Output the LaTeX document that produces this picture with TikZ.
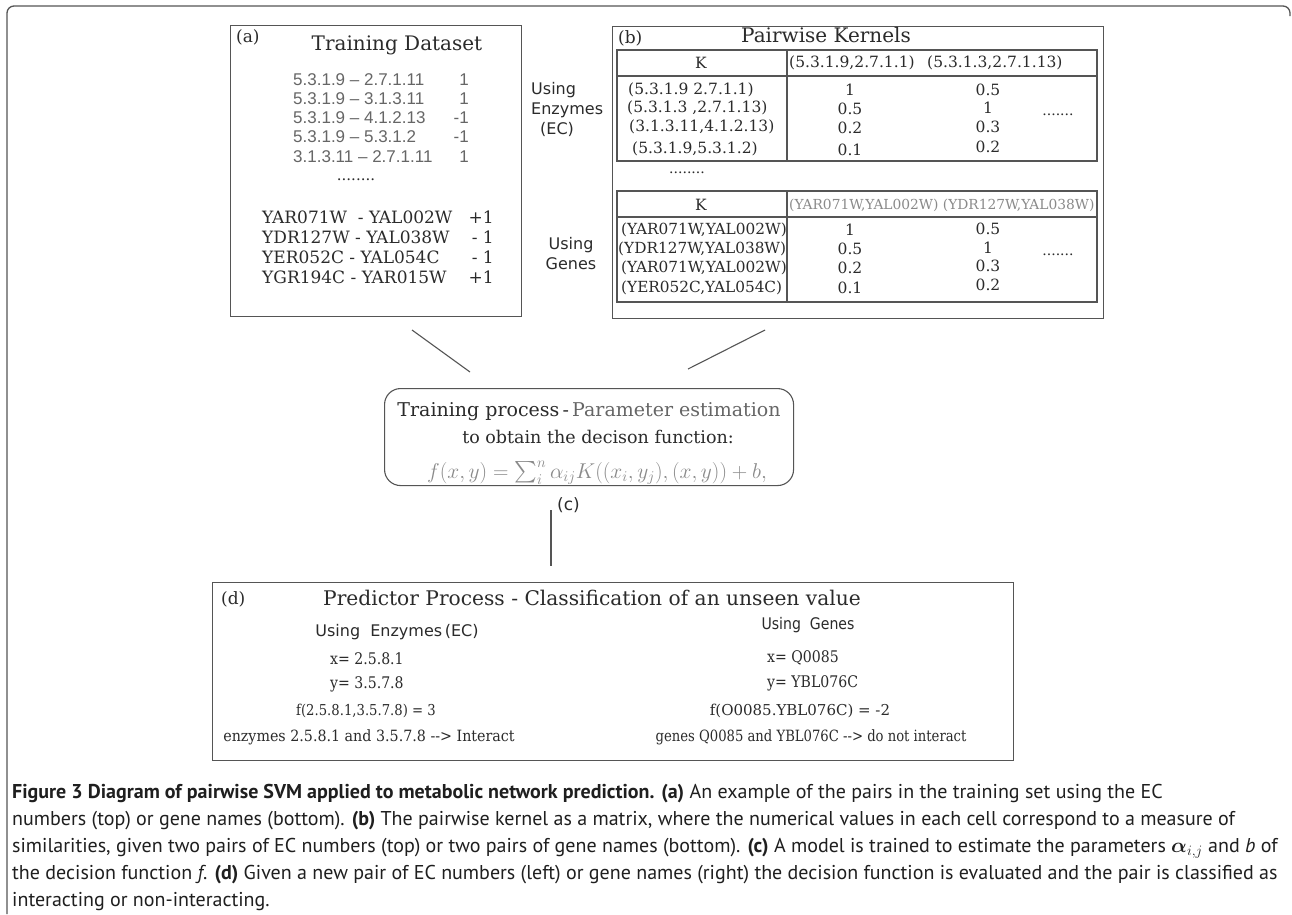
\documentclass[tikz,border=0pt]{standalone}
\usepackage{fontspec}
\usepackage{amsmath}
\usepackage{graphicx}
\setmainfont{DejaVu Serif}
\setsansfont{DejaVu Sans}
\newfontfamily\capfont{PT Sans}
\newfontfamily\arialfont{Liberation Sans}
\definecolor{ink}{HTML}{2B2B2B}
\definecolor{grayink}{HTML}{666666}
\definecolor{lightink}{HTML}{8A8A8A}
\definecolor{framec}{HTML}{555555}
\newcommand{\fs}[1]{\fontsize{#1}{#1}\selectfont}
\newcommand{\cnd}[1]{\scalebox{0.88}[1]{#1}}
\begin{document}
\begin{tikzpicture}[x=1pt,y=-1pt,
  every node/.style={inner sep=0pt, text=ink},
  box/.style={draw=framec, line width=1.1pt},
  tbl/.style={draw=framec, line width=1.1pt},
  link/.style={draw=framec, line width=1.1pt},
  ectext/.style={text=grayink, font=\arialfont\fs{17}},
  cell/.style={font=\fs{15.5}},
  gcell/.style={font=\fs{15.3}},
  gene/.style={font=\fs{17}},
  capline/.style={anchor=west, font=\capfont\fs{20}, text=black!88}]
\useasboundingbox (0,0) rectangle (1292,914);
\fill[white] (0,0) rectangle (1292,914);
% outer frame
\draw[framec, line width=1.3pt, rounded corners=7pt] (7,914) -- (7,6) -- (1290,6) -- (1290,16);

% ---------- box (a)
\node[box, anchor=north west, minimum width=291, minimum height=291] (boxa) at (230,25) {};
\node[anchor=west, font=\fs{17}] (la) at (236,37) {(a)};
\node[font=\fs{20}] (ta) at (397,45) {Training Dataset};
\node[ectext, anchor=west] (e1) at (293,80) {5.3.1.9 – 2.7.1.11};
\node[ectext, anchor=west] (e2) at (293,99) {5.3.1.9 – 3.1.3.11};
\node[ectext, anchor=west] (e3) at (293,118) {5.3.1.9 – 4.1.2.13};
\node[ectext, anchor=west] (e4) at (293,137) {5.3.1.9 – 5.3.1.2};
\node[ectext, anchor=west] (e5) at (293,157) {3.1.3.11 – 2.7.1.11};
\node[ectext, anchor=east] (v1) at (469,80) {1};
\node[ectext, anchor=east] (v2) at (469,99) {1};
\node[ectext, anchor=east] (v3) at (469,118) {-1};
\node[ectext, anchor=east] (v4) at (469,137) {-1};
\node[ectext, anchor=east] (v5) at (469,157) {1};
\node[font=\fs{15}] (dotsa) at (356,180) {........};
\node[gene, anchor=west] (g1) at (262,217) {YAR071W\ \ - YAL002W};
\node[gene, anchor=west] (g2) at (262,237) {YDR127W - YAL038W};
\node[gene, anchor=west] (g3) at (262,257) {YER052C - YAL054C};
\node[gene, anchor=west] (g4) at (262,277) {YGR194C - YAR015W};
\node[gene, anchor=east] (w1) at (494,217) {+1};
\node[gene, anchor=east] (w2) at (494,237) {- 1};
\node[gene, anchor=east] (w3) at (494,257) {- 1};
\node[gene, anchor=east] (w4) at (494,277) {+1};

% side labels
\node[anchor=north west, align=left, font=\sffamily\fs{16}, inner sep=0pt] (usee) at (531,82) {Using\\[4pt]Enzymes\\[4pt]\hspace{9pt}(EC)};
\node[align=center, font=\sffamily\fs{16}] (useg) at (571,254) {Using\\[4pt]Genes};

% ---------- box (b)
\node[box, anchor=north west, minimum width=491, minimum height=292] (boxb) at (612,26) {};
\node[anchor=west, font=\fs{17}] (lb) at (618,38) {(b)};
\node[font=\fs{20}] (tb) at (826,35) {Pairwise Kernels};
% table 1
\draw[tbl] (617,50) rectangle (1097,161);
\draw[tbl] (617,76) -- (1097,76);
\draw[tbl] (787,50) -- (787,161);
\node[cell] (k1) at (701,63) {K};
\node[cell, anchor=west] (h11) at (789,63) {(5.3.1.9,2.7.1.1)};
\node[cell, anchor=west] (h12) at (927,63) {(5.3.1.3,2.7.1.13)};
\node[cell, anchor=west] (r11) at (628,90) {(5.3.1.9 2.7.1.1)};
\node[cell, anchor=west] (r12) at (627,108) {(5.3.1.3 ,2.7.1.13)};
\node[cell, anchor=west] (r13) at (629,127) {(3.1.3.11,4.1.2.13)};
\node[cell, anchor=west] (r14) at (632,149) {(5.3.1.9,5.3.1.2)};
\node[cell] (a11) at (850,90) {1};
\node[cell] (a12) at (850,109) {0.5};
\node[cell] (a13) at (850,128) {0.2};
\node[cell] (a14) at (850,150) {0.1};
\node[cell] (b11) at (988,90) {0.5};
\node[cell] (b12) at (988,108) {1};
\node[cell] (b13) at (988,127) {0.3};
\node[cell] (b14) at (988,147) {0.2};
\node[font=\fs{14}] (dt1) at (1058,115) {.......};
\node[font=\fs{14}] (dmid) at (687,173) {........};
% table 2
\draw[tbl] (617,191) rectangle (1097,302);
\draw[tbl] (617,217) -- (1097,217);
\draw[tbl] (787,191) -- (787,302);
\node[cell] (k2) at (701,205) {K};
\node[anchor=west, font=\fs{13.8}, text=lightink] (h2) at (789,205) {(YAR071W,YAL002W) (YDR127W,YAL038W)};
\node[gcell, anchor=west] (r21) at (621,230) {(YAR071W,YAL002W)};
\node[gcell, anchor=west] (r22) at (618,249) {(YDR127W,YAL038W)};
\node[gcell, anchor=west] (r23) at (621,268) {(YAR071W,YAL002W)};
\node[gcell, anchor=west] (r24) at (621,288) {(YER052C,YAL054C)};
\node[cell] (a21) at (850,230) {1};
\node[cell] (a22) at (850,249) {0.5};
\node[cell] (a23) at (850,268) {0.2};
\node[cell] (a24) at (850,288) {0.1};
\node[cell] (b21) at (988,229) {0.5};
\node[cell] (b22) at (988,248) {1};
\node[cell] (b23) at (988,266) {0.3};
\node[cell] (b24) at (988,285) {0.2};
\node[font=\fs{14}] (dt2) at (1058,255) {.......};

% ---------- links to (c)
\coordinate (la1) at (412,330);
\coordinate (la2) at (470,372);
\coordinate (lb1) at (765,330);
\coordinate (lb2) at (688,369);
\draw[link] (la1) -- (la2);
\draw[link] (lb1) -- (lb2);

% ---------- box (c)
\node[box, anchor=north west, rounded corners=16pt, minimum width=409, minimum height=97] (boxc) at (384,388) {};
\node[font=\fs{19}] (c1) at (589,412) {Training process\,-\,{\color{grayink}Parameter estimation}};
\node[font=\fs{17.5}] (c2) at (598,437) {to obtain the decison function:};
\node[text=lightink, anchor=base] (c3) at (597,478) {\scalebox{1.24}{\fs{17}$\smash[t]{f(x,y)=\sum_i^n \alpha_{ij}K((x_i,y_j),(x,y))+b,}$}};
\node[anchor=west, font=\sffamily\fs{17}] (lc) at (557,505) {(c)};
\coordinate (lc1) at (551,510);
\coordinate (lc2) at (551,566);
\draw[link] (lc1) -- (lc2);

% ---------- box (d)
\node[box, anchor=north west, minimum width=801, minimum height=178] (boxd) at (212,582) {};
\node[anchor=west, font=\fs{17}] (ld) at (221,599) {(d)};
\node[font=\fs{20.2}] (td) at (592,598) {Predictor Process - Classification of an unseen value};
\node[font=\sffamily\fs{16}] (ue) at (397,632) {Using\ \ Enzymes\,(EC)};
\node[anchor=west, font=\fs{16}] (dx1) at (330,659) {\cnd{x= 2.5.8.1}};
\node[anchor=west, font=\fs{16}] (dy1) at (330,684) {\cnd{y= 3.5.7.8}};
\node[font=\fs{15}] (df1) at (366,711) {\cnd{f(2.5.8.1,3.5.7.8) = 3}};
\node[font=\fs{15.5}] (dr1) at (369,737) {\scalebox{0.92}[1]{enzymes 2.5.8.1 and 3.5.7.8 -{}-{}> Interact}};
\node[font=\sffamily\fs{16}] (ug) at (808,625) {\cnd{Using\ \ Genes}};
\node[anchor=west, font=\fs{16}] (dx2) at (767,658) {\cnd{x= Q0085}};
\node[anchor=west, font=\fs{16}] (dy2) at (767,683) {\cnd{y= YBL076C}};
\node[font=\fs{15}] (df2) at (800,711) {f(O0085.YBL076C) = -2};
\node[font=\fs{15.5}] (dr2) at (811,737) {\scalebox{0.85}[1]{genes Q0085 and YBL076C -{}-{}> do not interact}};

% ---------- caption
\node[capline] (cap1) at (12,794) {\textbf{Figure 3 Diagram of pairwise SVM applied to metabolic network prediction. (a)} An example of the pairs in the training set using the EC};
\node[capline] (cap2) at (12,821) {numbers (top) or gene names (bottom). \textbf{(b)} The pairwise kernel as a matrix, where the numerical values in each cell correspond to a measure of};
\node[capline] (cap3) at (12,848) {similarities, given two pairs of EC numbers (top) or two pairs of gene names (bottom). \textbf{(c)} A model is trained to estimate the parameters $\boldsymbol{\alpha}_{i,j}$ and \textit{b} of};
\node[capline] (cap4) at (12,875) {the decision function \textit{f}. \textbf{(d)} Given a new pair of EC numbers (left) or gene names (right) the decision function is evaluated and the pair is classified as};
\node[capline] (cap5) at (12,902) {interacting or non-interacting.};
\end{tikzpicture}
\end{document}
